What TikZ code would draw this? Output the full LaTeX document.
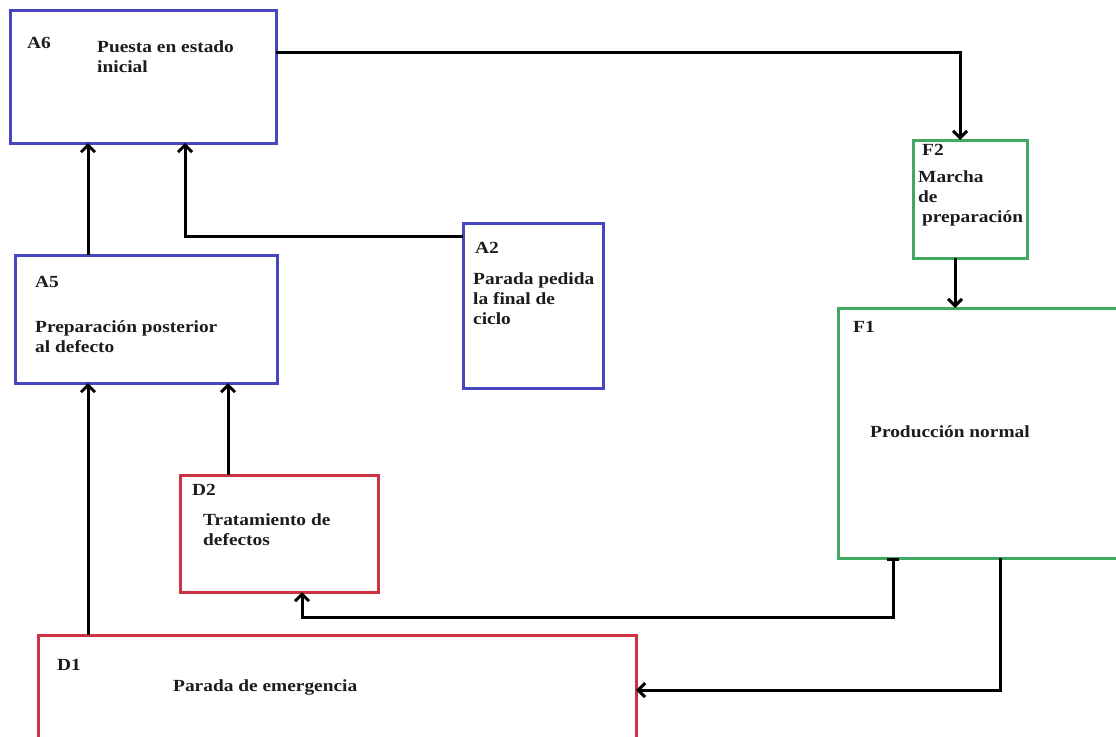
\documentclass[tikz,border=0pt]{standalone}
\usepackage{fontspec}
\setmainfont{Liberation Serif}[FakeStretch=1.14]
\usepackage{tikz}
\usetikzlibrary{arrows.meta, positioning}
\definecolor{cBlue}{RGB}{70,70,190}
\definecolor{cGreen}{RGB}{64,168,96}
\definecolor{cRed}{RGB}{206,50,66}
\definecolor{cText}{RGB}{28,28,28}
\tikzset{
	stbox/.style ={rectangle, line width=3pt, anchor=north west, inner sep=0pt, outer sep=0pt},
	bluebox/.style ={stbox, draw=cBlue},
	greenbox/.style={stbox, draw=cGreen},
	redbox/.style  ={stbox, draw=cRed},
	stid/.style  ={inner sep=0pt, text=cText, font=\fontsize{17}{20}\selectfont\bfseries},
	sttxt/.style ={stid, align=left},
	% connectors between states
	flow/.style   ={-{Straight Barb[length=7pt, width=14pt]}, line width=3pt},
	flowbar/.style={{Bar[width=12pt]}-{Straight Barb[length=7pt, width=14pt]}, line width=3pt},
}
\begin{document}
\begin{tikzpicture}[x=1pt, y=1pt]
	\clip (0,0) rectangle (1116,-736);
	\fill[white] (0,0) rectangle (1116,-736);
	% states
	\node[bluebox, minimum width=266pt, minimum height=133pt] (a6) at (10,-10) {};
	\node[greenbox, minimum width=114pt, minimum height=118pt] (f2) at (913,-140) {};
	\node[bluebox, minimum width=140pt, minimum height=165pt] (a2) at (463,-223) {};
	\node[bluebox, minimum width=262pt, minimum height=128pt] (a5) at (15,-255) {};
	\node[greenbox, minimum width=300pt, minimum height=250pt] (f1) at (838,-308) {};
	\node[redbox, minimum width=198pt, minimum height=117pt] (d2) at (180,-475) {};
	\node[redbox, minimum width=598pt, minimum height=130pt] (d1) at (38,-635) {};
	% texts
	\node[stid, below right=27pt and 17pt of a6.north west] (la6) {A6};
	\node[sttxt, below right=31pt and 87pt of a6.north west] (ta6) {Puesta en estado\\inicial};
	\node[stid, below right=4pt and 9pt of f2.north west] (lf2) {F2};
	\node[sttxt, below right=31pt and 5pt of f2.north west] (tf2) {Marcha\\de\\\hspace*{4pt}preparación};
	\node[stid, below right=19pt and 12pt of a2.north west] (la2) {A2};
	\node[sttxt, below right=50pt and 10pt of a2.north west] (ta2) {Parada pedida\\la final de\\ciclo};
	\node[stid, below right=21pt and 20pt of a5.north west] (la5) {A5};
	\node[sttxt, below right=65pt and 20pt of a5.north west] (ta5) {Preparación posterior\\al defecto};
	\node[stid, below right=13pt and 15pt of f1.north west] (lf1) {F1};
	\node[sttxt, below right=117pt and 32pt of f1.north west] (tf1) {Producción normal};
	\node[stid, below right=9pt and 12pt of d2.north west] (ld2) {D2};
	\node[sttxt, below right=38pt and 23pt of d2.north west] (td2) {Tratamiento de\\defectos};
	\node[stid, below right=24pt and 19pt of d1.north west] (ld1) {D1};
	\node[sttxt, below right=44pt and 135pt of d1.north west] (td1) {Parada de emergencia};
	% transitions
	\draw[flow] ([yshift=-42pt]a6.north east) -| ([xshift=-10pt]f2.north);
	\draw[flow] ([xshift=-15pt]f2.south) -- ([xshift=-15pt]f2.south |- f1.north);
	\draw[flow] ([xshift=73pt]a5.north west) -- ([xshift=73pt]a5.north west |- a6.south);
	\draw[flow] ([yshift=-13pt]a2.north west) -| ([xshift=175pt]a6.south west);
	\draw[flow] ([xshift=48pt]d2.north west) -- ([xshift=48pt]d2.north west |- a5.south);
	\draw[flow] ([xshift=50pt]d1.north west) -- ([xshift=50pt]d1.north west |- a5.south);
	\draw[flowbar] ([xshift=55pt]f1.south west) -- ++(0,-59) -| ([xshift=122pt]d2.south west);
	\draw[flow] ([xshift=162pt]f1.south west) |- ([yshift=-55pt]d1.north east);
\end{tikzpicture}
\end{document}
